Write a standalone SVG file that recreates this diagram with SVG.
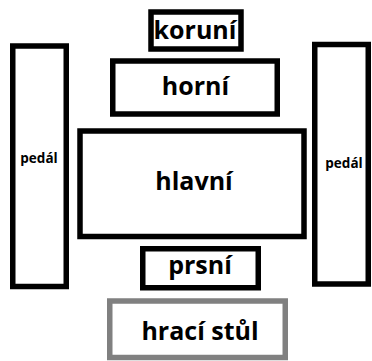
<svg xmlns="http://www.w3.org/2000/svg" width="372" height="361" viewBox="0 0 372 361">
<style>
.box{fill:#fff;stroke:#000;stroke-width:5.5}
.grey{fill:#fff;stroke:#808080;stroke-width:5.5}
.t{font-family:"Open Sans","Noto Sans","Liberation Sans",sans-serif;font-weight:bold;fill:#000;text-anchor:middle}
.big{font-size:25px}
.small{font-size:13.5px}
</style>
<rect width="372" height="361" fill="#fff"/>
<g id="pedal-left">
<rect class="box" x="12.75" y="46" width="53.5" height="240.5"/>
<text class="t small" x="39" y="163">pedál</text>
</g>
<g id="pedal-right">
<rect class="box" x="314.75" y="44.5" width="53.5" height="239.5"/>
<text class="t small" x="344" y="168">pedál</text>
</g>
<g id="koruni">
<rect class="box" x="151" y="12" width="90" height="37"/>
<text class="t big" x="195" y="38.5">koruní</text>
</g>
<g id="horni">
<rect class="box" x="112.75" y="61" width="164.5" height="53"/>
<text class="t big" x="195.5" y="95">horní</text>
</g>
<g id="hlavni">
<rect class="box" x="80" y="131" width="224" height="105.5"/>
<text class="t big" x="194" y="190">hlavní</text>
</g>
<g id="prsni">
<rect class="box" x="142.75" y="248.75" width="115.5" height="39"/>
<text class="t big" x="200" y="273.5">prsní</text>
</g>
<g id="hraci-stul">
<rect class="grey" x="109.75" y="301" width="175.5" height="56.5"/>
<text class="t big" x="200" y="340">hrací stůl</text>
</g>
<g id="connectors"/>
</svg>
